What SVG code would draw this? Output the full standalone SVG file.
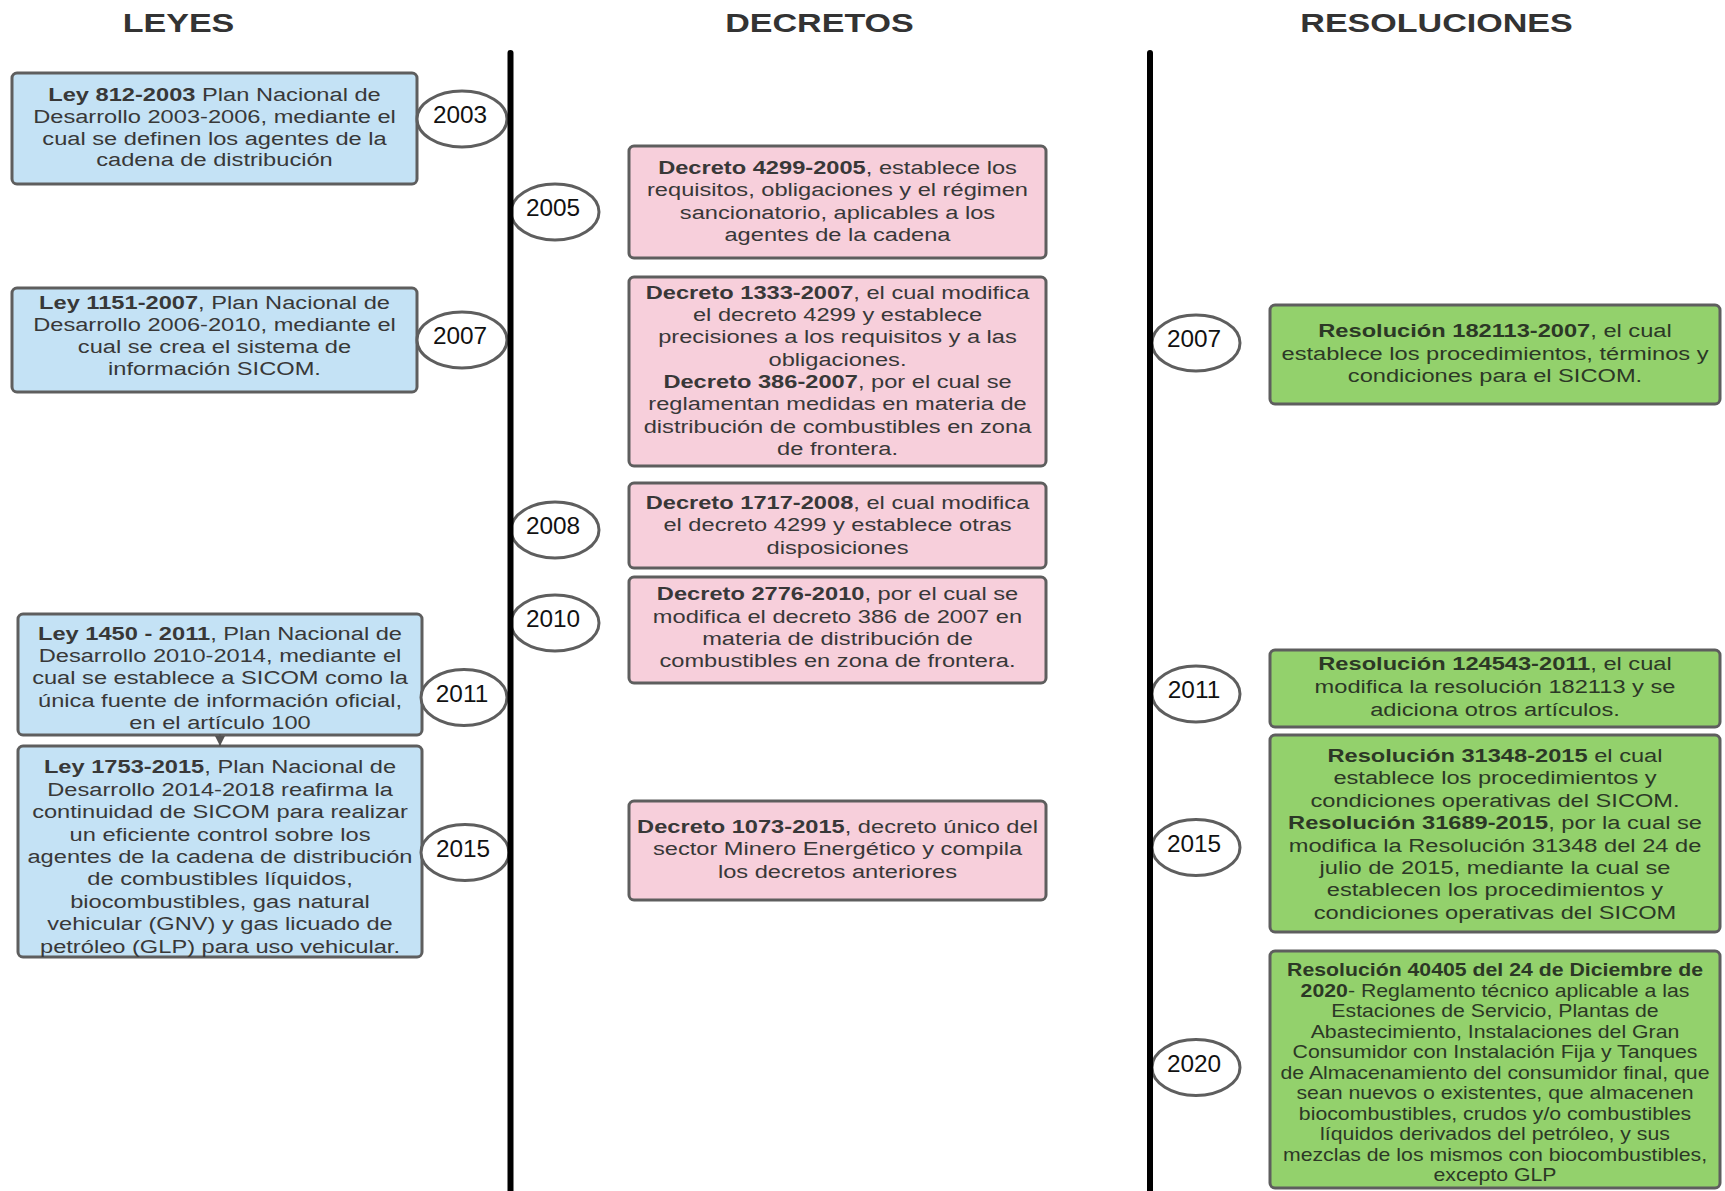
<svg xmlns="http://www.w3.org/2000/svg" width="1725" height="1191" viewBox="0 0 1725 1191">
<style>
.title{font-family:"Liberation Sans",Arial,sans-serif;font-weight:bold;font-size:26px;fill:#333;text-anchor:middle}
.box{stroke:#5e5e5e;stroke-width:3}
.ley{fill:#c4e2f5}
.dec{fill:#f7cfdb}
.res{fill:#93d16c}
.t{font-family:"Liberation Sans",Arial,sans-serif;font-size:19px;fill:#383838;text-anchor:middle}
.tg{fill:#2c3826}
.sm{font-size:17.5px}
.b{font-weight:bold}
.yr{fill:#fff;stroke:#5e5e5e;stroke-width:3}
.yt{font-family:"Liberation Sans",Arial,sans-serif;font-size:23px;fill:#111;text-anchor:middle}
.axis{stroke:#000;stroke-width:6;stroke-linecap:round}
.conn{stroke:#555;stroke-width:2;fill:none}
</style>
<defs>
<marker id="arrow" markerUnits="userSpaceOnUse" markerWidth="10" markerHeight="10" viewBox="0 0 10 10" refX="10" refY="5" orient="auto"><path d="M0,0 L10,5 L0,10 z" fill="#555"/></marker>
</defs>
<rect width="1725" height="1191" fill="#fff"/>

<g id="titles">
<text class="title" transform="translate(178.5,32) scale(1.31,1)">LEYES</text>
<text class="title" transform="translate(819.5,32) scale(1.31,1)">DECRETOS</text>
<text class="title" transform="translate(1436.5,32) scale(1.31,1)">RESOLUCIONES</text>
</g>

<!-- LEYES -->
<g id="ley-812-2003">
<rect class="box ley" x="12" y="73" width="405" height="111" rx="5"/>
<text class="t" transform="translate(214.5,0) scale(1.245,1)"><tspan x="0" y="101.5"><tspan class="b">Ley 812-2003</tspan> Plan Nacional de</tspan><tspan x="0" y="123.5">Desarrollo 2003-2006, mediante el</tspan><tspan x="0" y="145">cual se definen los agentes de la</tspan><tspan x="0" y="166.5">cadena de distribución</tspan></text>
</g>
<g id="ley-1151-2007">
<rect class="box ley" x="12" y="288" width="405" height="104" rx="5"/>
<text class="t" transform="translate(214.5,0) scale(1.245,1)"><tspan x="0" y="309"><tspan class="b">Ley 1151-2007</tspan>, Plan Nacional de</tspan><tspan x="0" y="331">Desarrollo 2006-2010, mediante el</tspan><tspan x="0" y="353">cual se crea el sistema de</tspan><tspan x="0" y="375">información SICOM.</tspan></text>
</g>
<g id="ley-1450-2011">
<rect class="box ley" x="18" y="614" width="404" height="121" rx="5"/>
<text class="t" transform="translate(220,0) scale(1.245,1)"><tspan x="0" y="640"><tspan class="b">Ley 1450 - 2011</tspan>, Plan Nacional de</tspan><tspan x="0" y="662.2">Desarrollo 2010-2014, mediante el</tspan><tspan x="0" y="684.4">cual se establece a SICOM como la</tspan><tspan x="0" y="706.6">única fuente de información oficial,</tspan><tspan x="0" y="728.8">en el artículo 100</tspan></text>
</g>
<g id="ley-1753-2015">
<rect class="box ley" x="18" y="746" width="404" height="211" rx="5"/>
<text class="t" transform="translate(220,0) scale(1.245,1)"><tspan x="0" y="773.5"><tspan class="b">Ley 1753-2015</tspan>, Plan Nacional de</tspan><tspan x="0" y="795.9">Desarrollo 2014-2018 reafirma la</tspan><tspan x="0" y="818.3">continuidad de SICOM para realizar</tspan><tspan x="0" y="840.7">un eficiente control sobre los</tspan><tspan x="0" y="863.1">agentes de la cadena de distribución</tspan><tspan x="0" y="885.5">de combustibles líquidos,</tspan><tspan x="0" y="907.9">biocombustibles, gas natural</tspan><tspan x="0" y="930.3">vehicular (GNV) y gas licuado de</tspan><tspan x="0" y="952.7">petróleo (GLP) para uso vehicular.</tspan></text>
</g>

<!-- DECRETOS -->
<g id="decreto-4299-2005">
<rect class="box dec" x="629" y="146" width="417" height="112" rx="5"/>
<text class="t" transform="translate(837.5,0) scale(1.245,1)"><tspan x="0" y="174"><tspan class="b">Decreto 4299-2005</tspan>, establece los</tspan><tspan x="0" y="196.5">requisitos, obligaciones y el régimen</tspan><tspan x="0" y="219">sancionatorio, aplicables a los</tspan><tspan x="0" y="241.5">agentes de la cadena</tspan></text>
</g>
<g id="decreto-1333-386-2007">
<rect class="box dec" x="629" y="277" width="417" height="189" rx="5"/>
<text class="t" transform="translate(837.5,0) scale(1.245,1)"><tspan x="0" y="298.7"><tspan class="b">Decreto 1333-2007</tspan>, el cual modifica</tspan><tspan x="0" y="321">el decreto 4299 y establece</tspan><tspan x="0" y="343.3">precisiones a los requisitos y a las</tspan><tspan x="0" y="365.6">obligaciones.</tspan><tspan x="0" y="388"><tspan class="b">Decreto 386-2007</tspan>, por el cual se</tspan><tspan x="0" y="410.3">reglamentan medidas en materia de</tspan><tspan x="0" y="432.6">distribución de combustibles en zona</tspan><tspan x="0" y="455">de frontera.</tspan></text>
</g>
<g id="decreto-1717-2008">
<rect class="box dec" x="629" y="483" width="417" height="85" rx="5"/>
<text class="t" transform="translate(837.5,0) scale(1.245,1)"><tspan x="0" y="508.7"><tspan class="b">Decreto 1717-2008</tspan>, el cual modifica</tspan><tspan x="0" y="531.2">el decreto 4299 y establece otras</tspan><tspan x="0" y="553.7">disposiciones</tspan></text>
</g>
<g id="decreto-2776-2010">
<rect class="box dec" x="629" y="577" width="417" height="106" rx="5"/>
<text class="t" transform="translate(837.5,0) scale(1.245,1)"><tspan x="0" y="600.3"><tspan class="b">Decreto 2776-2010</tspan>, por el cual se</tspan><tspan x="0" y="622.7">modifica el decreto 386 de 2007 en</tspan><tspan x="0" y="645.1">materia de distribución de</tspan><tspan x="0" y="667.5">combustibles en zona de frontera.</tspan></text>
</g>
<g id="decreto-1073-2015">
<rect class="box dec" x="629" y="801" width="417" height="99" rx="5"/>
<text class="t" transform="translate(837.5,0) scale(1.245,1)"><tspan x="0" y="833"><tspan class="b">Decreto 1073-2015</tspan>, decreto único del</tspan><tspan x="0" y="855.3">sector Minero Energético y compila</tspan><tspan x="0" y="877.6">los decretos anteriores</tspan></text>
</g>

<!-- RESOLUCIONES -->
<g id="resolucion-182113-2007">
<rect class="box res" x="1270" y="305" width="450" height="99" rx="5"/>
<text class="t tg" transform="translate(1495,0) scale(1.245,1)"><tspan x="0" y="337.5"><tspan class="b">Resolución 182113-2007</tspan>, el cual</tspan><tspan x="0" y="360">establece los procedimientos, términos y</tspan><tspan x="0" y="382.5">condiciones para el SICOM.</tspan></text>
</g>
<g id="resolucion-124543-2011">
<rect class="box res" x="1270" y="650" width="450" height="77" rx="5"/>
<text class="t tg" transform="translate(1495,0) scale(1.245,1)"><tspan x="0" y="670.3"><tspan class="b">Resolución 124543-2011</tspan>, el cual</tspan><tspan x="0" y="693">modifica la resolución 182113 y se</tspan><tspan x="0" y="715.7">adiciona otros artículos.</tspan></text>
</g>
<g id="resolucion-31348-31689-2015">
<rect class="box res" x="1270" y="735" width="450" height="197" rx="5"/>
<text class="t tg" transform="translate(1495,0) scale(1.245,1)"><tspan x="0" y="762"><tspan class="b">Resolución 31348-2015</tspan> el cual</tspan><tspan x="0" y="784.4">establece los procedimientos y</tspan><tspan x="0" y="806.8">condiciones operativas del SICOM.</tspan><tspan x="0" y="829.2"><tspan class="b">Resolución 31689-2015</tspan>, por la cual se</tspan><tspan x="0" y="851.6">modifica la Resolución 31348 del 24 de</tspan><tspan x="0" y="874">julio de 2015, mediante la cual se</tspan><tspan x="0" y="896.4">establecen los procedimientos y</tspan><tspan x="0" y="918.8">condiciones operativas del SICOM</tspan></text>
</g>
<g id="resolucion-40405-2020">
<rect class="box res" x="1270" y="951" width="450" height="237" rx="5"/>
<text class="t tg sm" transform="translate(1495,0) scale(1.215,1)"><tspan x="0" y="976.5" class="b">Resolución 40405 del 24 de Diciembre de</tspan><tspan x="0" y="997"><tspan class="b">2020</tspan>- Reglamento técnico aplicable a las</tspan><tspan x="0" y="1017.5">Estaciones de Servicio, Plantas de</tspan><tspan x="0" y="1038">Abastecimiento, Instalaciones del Gran</tspan><tspan x="0" y="1058.5">Consumidor con Instalación Fija y Tanques</tspan><tspan x="0" y="1079">de Almacenamiento del consumidor final, que</tspan><tspan x="0" y="1099.5">sean nuevos o existentes, que almacenen</tspan><tspan x="0" y="1120">biocombustibles, crudos y/o combustibles</tspan><tspan x="0" y="1140.5">líquidos derivados del petróleo, y sus</tspan><tspan x="0" y="1161">mezclas de los mismos con biocombustibles,</tspan><tspan x="0" y="1181.5">excepto GLP</tspan></text>
</g>

<!-- YEARS -->
<g id="year-2003-ley"><ellipse class="yr" cx="462" cy="119" rx="45" ry="28"/><text class="yt" transform="translate(460,123) scale(1.06,1)">2003</text></g>
<g id="year-2007-ley"><ellipse class="yr" cx="462" cy="340" rx="45" ry="28"/><text class="yt" transform="translate(460,344) scale(1.06,1)">2007</text></g>
<g id="year-2011-ley"><ellipse class="yr" cx="464" cy="697.5" rx="43" ry="28"/><text class="yt" transform="translate(462,701.5) scale(1.06,1)">2011</text></g>
<g id="year-2015-ley"><ellipse class="yr" cx="465" cy="852.5" rx="44" ry="28"/><text class="yt" transform="translate(463,856.5) scale(1.06,1)">2015</text></g>
<g id="year-2005-dec"><ellipse class="yr" cx="555" cy="212" rx="44" ry="28"/><text class="yt" transform="translate(553,216) scale(1.06,1)">2005</text></g>
<g id="year-2008-dec"><ellipse class="yr" cx="555" cy="530" rx="44" ry="28"/><text class="yt" transform="translate(553,534) scale(1.06,1)">2008</text></g>
<g id="year-2010-dec"><ellipse class="yr" cx="555" cy="623" rx="44" ry="28"/><text class="yt" transform="translate(553,627) scale(1.06,1)">2010</text></g>
<g id="year-2007-res"><ellipse class="yr" cx="1196" cy="343" rx="44" ry="28"/><text class="yt" transform="translate(1194,347) scale(1.06,1)">2007</text></g>
<g id="year-2011-res"><ellipse class="yr" cx="1196" cy="694" rx="44" ry="28"/><text class="yt" transform="translate(1194,698) scale(1.06,1)">2011</text></g>
<g id="year-2015-res"><ellipse class="yr" cx="1196" cy="847.5" rx="44" ry="28"/><text class="yt" transform="translate(1194,851.5) scale(1.06,1)">2015</text></g>
<g id="year-2020-res"><ellipse class="yr" cx="1196" cy="1067.5" rx="44" ry="28"/><text class="yt" transform="translate(1194,1071.5) scale(1.06,1)">2020</text></g>

<!-- TIMELINE AXES -->
<g id="timeline">
<line class="axis" x1="510.5" y1="53" x2="510.5" y2="1195"/>
<line class="axis" x1="1150" y1="53" x2="1150" y2="1195"/>
</g>

<g id="connectors">
<line class="conn" x1="220" y1="734" x2="220" y2="746" marker-end="url(#arrow)"/>
</g>
</svg>
